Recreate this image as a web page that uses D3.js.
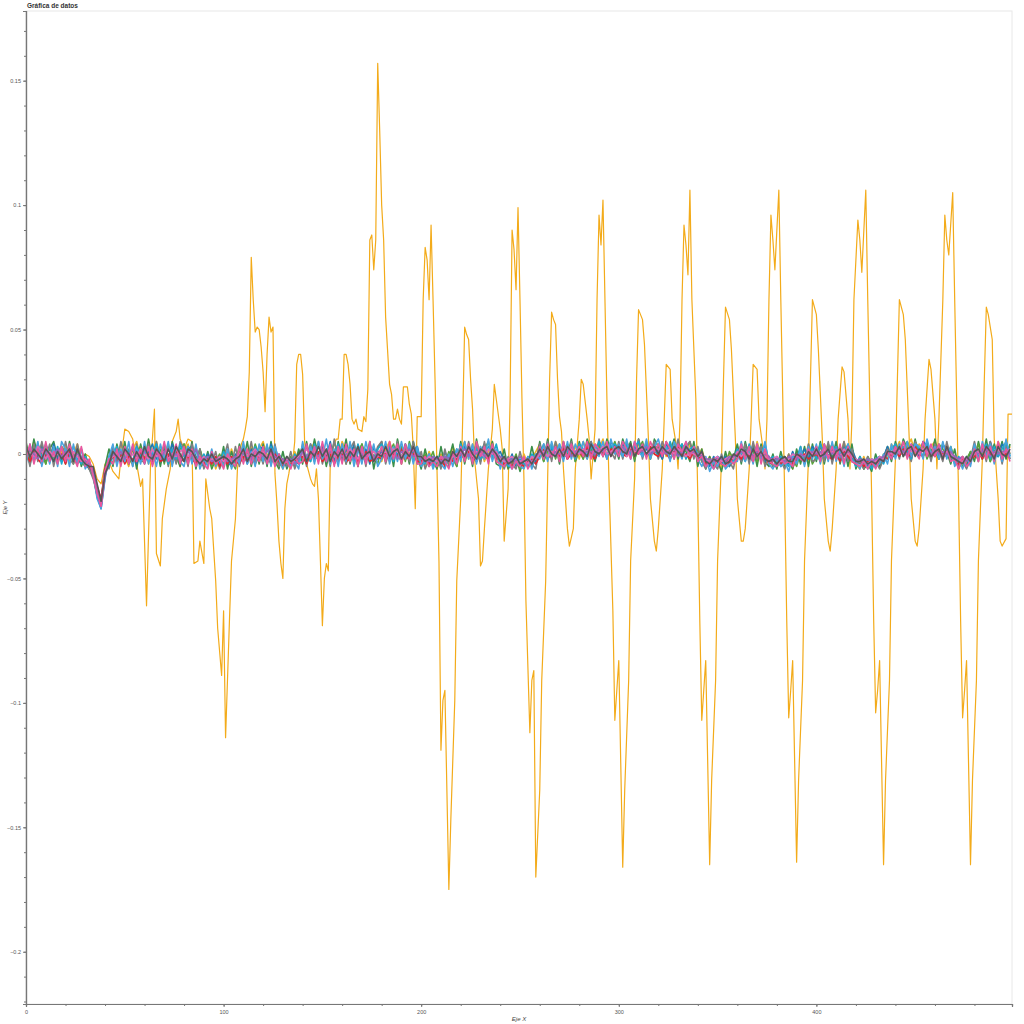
<!DOCTYPE html>
<html><head><meta charset="utf-8">
<script src="https://cdn.jsdelivr.net/npm/d3@7"></script>
<style>body{margin:0;background:#fff}svg{display:block}text{font-family:"Liberation Sans",Arial,Helvetica,sans-serif}</style>
</head><body><svg id="chart" width="1024" height="1024"></svg>
<script>
const titleText = "Gráfica de datos";
const xLabelText = "Eje X";
const yLabelText = "Eje Y";
const xTicks = [0, 100, 200, 300, 400];
const yTicks = [-0.2, -0.15, -0.1, -0.05, 0, 0.05, 0.1, 0.15];
const yTickLabels = ["−0.2", "−0.15", "−0.1", "−0.05", "0", "0.05", "0.1", "0.15"];
const goldColor = "#f3ab1a";
const bandColors = ["#f0b428", "#3b8f4a", "#5aa43c", "#1f77b4", "#7f7f7f", "#1aa7cf", "#e4262f", "#4aa3df", "#e06cb8", "#9467bd", "#e8579e", "#555555"];
// gold series: [x, value in thousandths]
const goldSeries = [[0,1],[2,2],[4,0],[6,1],[8,-1],[10,2],[12,0],[14,-2],[16,1],[18,-1],[20,0],[22,2],[24,-1],[26,0],[28,-2],[30,0],[32,-1],[34,-4],[36,-10],[38,-12],[40,-4],[42,-3],[44,-7],[46,-9],[47,-10],[48,-2],[50,10],[52,9],[54,6],[56,-4],[58,-13],[59,-10],[61,-61],[63,-5],[65,18],[66,-40],[68,-45],[69,-26],[71,-14],[73,-6],[74,5],[76,9],[77,14],[78,6],[80,2],[82,6],[84,5],[85,-44],[87,-43],[88,-35],[90,-44],[91,-10],[93,-22],[94,-26],[96,-51],[97,-70],[99,-89],[100,-63],[101,-114],[103,-66],[104,-43],[106,-26],[107,-6],[108,0],[109,4],[110,6],[111,10],[112,15],[113,33],[114,79],[115,62],[116,49],[117,51],[118,50],[119,43],[120,33],[121,17],[122,40],[123,55],[124,49],[125,51],[126,-8],[127,-20],[128,-35],[129,-44],[130,-50],[131,-22],[132,-12],[133,-8],[134,-3],[135,-3],[136,5],[137,36],[138,40],[139,40],[140,32],[141,5],[142,-4],[143,-7],[144,-10],[145,-12],[146,-13],[147,-6],[148,-18],[149,-43],[150,-69],[151,-50],[152,-44],[153,-47],[154,-3],[155,2],[157,6],[158,6],[159,14],[160,14],[161,40],[162,40],[163,36],[164,28],[165,14],[166,12],[167,14],[168,10],[170,9],[171,15],[172,13],[173,26],[174,86],[175,88],[176,74],[177,86],[178,157],[179,130],[180,100],[181,86],[182,55],[184,28],[185,24],[186,14],[187,14],[188,18],[189,14],[190,12],[191,27],[193,27],[194,20],[195,16],[196,2],[197,-22],[198,15],[200,15],[201,62],[202,83],[203,78],[204,62],[205,92],[206,62],[207,30],[208,-6],[209,-43],[210,-119],[211,-99],[212,-95],[214,-175],[215,-147],[217,-99],[218,-51],[220,-18],[221,14],[222,51],[223,48],[224,46],[225,30],[226,18],[227,-2],[229,-18],[230,-45],[231,-43],[232,-30],[233,-18],[234,-6],[236,10],[237,28],[238,22],[240,10],[241,2],[242,-35],[244,-14],[245,22],[246,90],[247,82],[248,66],[249,99],[250,62],[251,22],[252,-10],[253,-59],[255,-112],[256,-91],[257,-87],[258,-170],[260,-135],[261,-91],[263,-51],[264,-10],[265,30],[266,57],[267,54],[268,52],[269,30],[270,15],[271,9],[272,-6],[274,-30],[275,-37],[277,-30],[278,-6],[280,14],[281,30],[282,28],[284,14],[285,6],[286,-10],[288,10],[289,62],[290,96],[291,84],[292,102],[293,62],[294,22],[295,-10],[297,-63],[298,-107],[299,-95],[300,-83],[302,-166],[303,-135],[305,-91],[306,-43],[308,-10],[309,30],[310,58],[312,54],[313,44],[315,6],[316,-18],[318,-35],[319,-39],[320,-30],[322,-6],[323,14],[324,36],[326,34],[327,14],[329,4],[330,-6],[331,14],[332,62],[333,92],[334,84],[335,72],[336,106],[337,62],[339,22],[340,-18],[341,-67],[342,-107],[343,-95],[344,-83],[346,-165],[347,-131],[349,-91],[350,-43],[352,-2],[353,30],[354,59],[356,54],[357,42],[359,6],[360,-18],[362,-35],[363,-35],[364,-30],[366,-6],[367,14],[368,36],[370,34],[371,14],[373,2],[374,-6],[375,14],[376,62],[377,96],[378,86],[379,74],[381,106],[382,62],[383,22],[384,-18],[385,-67],[386,-106],[387,-95],[388,-83],[390,-164],[391,-131],[393,-91],[394,-43],[396,-2],[397,30],[398,62],[400,56],[401,42],[403,6],[404,-18],[406,-35],[407,-39],[408,-30],[410,-6],[411,14],[413,35],[414,33],[416,14],[417,-6],[418,14],[419,62],[421,94],[422,86],[423,73],[425,106],[426,62],[427,22],[428,-18],[429,-67],[430,-104],[431,-95],[432,-83],[434,-165],[435,-131],[437,-91],[438,-43],[440,-2],[441,30],[442,62],[444,56],[445,46],[447,6],[448,-18],[450,-35],[451,-37],[452,-30],[454,-6],[455,14],[457,38],[458,34],[460,14],[461,-6],[462,14],[464,62],[465,96],[466,86],[467,80],[469,105],[470,62],[471,22],[472,-18],[473,-67],[474,-106],[475,-95],[476,-83],[478,-165],[479,-131],[481,-91],[482,-43],[484,-2],[485,30],[486,59],[487,56],[489,46],[490,6],[492,-18],[493,-35],[494,-37],[496,-34],[497,16],[499,16]];
// band series sampled every 2 x units, values in thousandths
const band1 = "4 -2 5 1 -3 3 -1 2 -4 1 3 -3 0 4 -2 -3 -5 -9 -14 -19 -8 -4 2 -3 4 -1 -5 2 5 -2 3 -4 1 5 -2 0 4 -3 2 -5 1 4 -2 3 -5 -1 -4 1 -6 -2 0 -5 2 -3 -1 4 -2 3 -4 2 5 -1 3 -4 -2 -6 -1 -4 1 -3 4 -2 1 5 -3 2 -4 3 0 -2 5 1 -3 2 -5 3 -1 4 -2 1 -3 2 5 -1 3 -4 2 0 4 -3 -1 -5 1 -3 -6 0 -2 -4 3 -1 2 5 -2 4 -1 3 -3 1 5 -2 -4 -1 -6 -2 -3 -5 0 -4 -2 1 4 -2 3 -1 5 1 -2 4 0 3 -2 5 1 -1 4 2 6 -1 3 1 4 0 5 2 -1 4 1 5 -2 3 2 4 -1 3 5 0 3 -2 4 1 -1 2 -4 -1 -5 -2 -6 -3 0 -4 3 -2 4 1 -3 5 -1 2 -4 -1 -5 -2 -4 0 -6 -1 2 -3 4 0 3 -2 1 4 -3 2 -1 5 -2 1 -4 -6 -1 -5 -3 -2 -4 0 -2 4 1 5 -1 3 6 0 4 2 -1 3 5 1 -2 4 0 -3 -5 -1 -4 -2 2 -3 4 0 3 -2 5 1 -1 3";
const band2 = "5 -3 6 -1 4 -4 2 5 -2 3 -4 5 -2 3 -5 0 -6 -9 -17 -20 -5 2 -5 4 -3 5 -4 3 -6 4 -3 6 -2 4 -5 3 -4 5 -1 -5 4 -3 5 -6 2 -5 1 -6 -2 -5 3 -6 1 -4 4 -3 5 -5 2 -4 4 -5 5 -3 -6 1 -6 -2 -5 2 -4 5 -3 6 -1 4 -5 3 -4 5 -2 6 -4 3 -5 4 -2 5 -6 2 5 -3 4 -5 6 -2 4 -4 5 -1 -6 2 -5 -1 -6 3 -5 -2 4 -5 5 -4 3 -5 6 -2 4 -3 5 -4 -5 2 -6 -3 -1 -7 -2 -5 3 -4 5 -3 6 -2 4 -4 5 -1 6 -3 5 -2 6 1 -3 5 -1 6 2 4 -2 6 1 5 -3 6 0 4 -2 6 3 -2 5 0 6 -2 4 1 -3 5 -5 2 -6 -1 -5 -3 -7 1 -5 -2 4 -4 5 -2 3 -5 4 -3 -5 0 -6 1 -5 -3 -6 2 -4 3 -5 4 -3 5 -4 4 -2 5 -4 3 -5 4 -6 -1 -6 -4 -7 0 -5 -2 3 -3 5 -1 6 2 -2 6 -1 5 3 -2 6 -2 4 1 -4 2 -6 -2 -5 1 -3 5 -2 6 -3 4 -1 5 -2 4";
const band3 = "-3 2 -1 4 0 -4 3 -2 1 3 -1 2 -4 1 -3 -5 -3 -7 -16 -21 -6 -2 -4 2 -1 3 -2 -4 1 3 -2 3 -3 0 2 -4 3 1 -3 2 4 -2 0 -4 2 -3 -1 -5 -3 0 -4 1 -3 -6 2 -2 1 -3 4 -1 -3 3 -2 1 -5 -2 -4 -1 -5 0 -2 3 -1 2 4 -3 1 -2 5 -1 2 -4 3 -2 1 4 -3 2 -1 -4 3 -1 1 4 -2 3 -3 5 -1 2 -4 0 -3 1 -5 -3 -4 1 -2 -5 3 -2 1 -1 4 -3 2 5 -2 0 -1 -5 -2 -4 0 -6 -2 -3 -5 -1 2 -3 1 4 -2 3 1 -1 4 -3 1 -2 4 2 -1 3 0 4 1 5 0 3 1 4 -2 2 5 -1 3 0 4 1 3 -2 1 4 -1 2 5 -1 2 -3 -5 -2 -4 -1 -3 -5 1 -2 -2 4 -1 3 1 -3 2 -2 -1 -5 -3 -4 -1 -3 -2 -5 1 -2 2 -4 -1 3 -2 1 4 -1 3 -3 0 -2 -3 -2 -6 -1 -4 -5 -1 -3 1 -1 3 0 2 5 -1 3 1 4 -2 2 0 4 2 -1 3 -2 -3 -5 -2 1 -1 4 -2 2 -3 1 3 -2 4 0";
const band4 = "1 -4 2 -1 3 1 -3 4 -2 -1 -2 3 -1 -3 2 -4 -6 -6 -17 -22 -9 -1 3 -2 -3 1 -1 3 -4 0 -4 1 4 -2 -1 3 -2 4 -1 -3 -2 2 3 -1 -3 -5 0 -2 -4 -3 -2 -3 -5 0 -3 1 -4 2 -2 3 2 -4 4 -2 0 -3 -5 -2 -3 -4 1 -3 4 -1 -2 3 -1 5 -3 1 -3 2 -1 4 -2 0 2 -4 3 -2 1 4 -2 2 0 -3 4 -2 1 3 -3 -2 -4 -1 -2 -5 1 -3 -3 2 -2 3 -1 2 -3 1 4 -2 3 -1 1 -3 -4 0 -5 -3 -5 -1 -4 -3 -1 4 -2 2 3 -1 4 -2 2 0 3 -1 2 5 -2 1 3 -2 5 2 -1 4 2 -1 3 0 3 2 -1 4 1 -2 4 1 3 -1 2 4 0 3 -2 0 -2 -5 -1 -3 -4 -1 -5 -1 1 -3 2 -1 4 0 3 -3 -2 -3 -1 -5 -2 -4 1 -3 -1 2 -2 3 1 -3 4 -1 2 -2 0 3 -3 2 -2 -4 -3 -5 -2 -4 -3 -1 3 -1 -1 3 1 -1 4 2 -1 5 3 0 2 -2 4 1 -2 -1 -4 -2 -5 -1 0 -2 3 -1 5 0 -1 4 2 -2";
const band5 = "3 -5 4 -3 5 -2 4 -5 2 -3 5 -2 -4 4 -3 -2 -6 -10 -16 -19 -5 -6 3 -4 5 -2 2 -5 4 -3 -3 4 -4 5 -3 4 -5 2 -4 5 2 -5 4 -3 2 -6 -2 -4 1 -6 -2 4 -5 3 -5 2 -3 5 -3 1 -4 3 -3 4 -5 -2 -5 1 -6 -1 3 -5 4 -3 5 -4 2 -5 6 -3 4 -4 2 5 -4 3 -5 4 -2 3 5 -4 2 -2 5 -4 3 -3 5 -4 1 -6 -2 -4 -1 -6 2 -5 -2 -3 4 -3 5 -2 3 -4 5 -3 4 -2 -2 -6 -1 -4 -6 1 -5 -3 -4 -6 4 -2 5 -3 5 -1 3 -2 5 -2 4 1 -2 5 -1 6 -1 4 1 -2 5 -2 4 3 -1 6 -2 4 1 5 -2 5 1 4 -2 6 -1 3 5 -2 3 -3 -6 -2 -4 -6 0 -5 -3 -6 2 -3 4 -4 5 -2 3 -5 -1 -5 -5 -3 -6 0 -5 -3 3 -4 4 -3 -2 4 -3 5 -4 3 -2 5 -3 2 -5 -3 -6 -1 -5 -3 -6 -2 2 -1 4 -2 5 1 -3 5 2 -1 5 -3 4 1 -3 5 -2 -1 -5 -3 -6 -2 5 -2 3 -3 5 -1 4 -4 3 -2";
const band6 = "-2 3 -3 2 -1 4 0 -3 3 -4 2 -1 3 -2 -4 -1 -4 -8 -15 -20 -7 -5 -1 3 -4 2 1 -3 3 -1 2 -3 0 4 -3 1 -4 2 -2 4 -1 3 -3 2 -4 0 -3 -1 -2 -4 1 -2 -4 -1 -2 3 -1 -3 3 -2 1 -2 3 0 -3 -4 -2 -5 0 -3 3 -1 -3 4 -2 1 -3 2 -1 4 -1 3 0 -3 4 -1 -3 3 -2 2 4 -2 3 -3 2 1 -1 3 -3 1 -2 -4 0 -5 -1 -2 -4 -2 0 -3 4 -1 3 -3 2 -2 0 3 -1 4 -3 -2 -5 -1 -4 -2 -4 -5 0 -2 3 1 -2 3 -1 4 -2 1 3 -2 4 2 -1 3 0 5 2 -1 3 4 2 -1 4 0 3 5 -1 4 1 2 -1 3 0 5 -1 2 4 -2 2 3 0 -2 -4 -3 -6 -1 -2 -4 -2 -3 2 0 -3 4 -2 2 -1 4 -3 -1 -4 -1 -3 -5 -1 -2 3 -4 0 2 -2 4 0 -2 1 3 -3 1 4 -1 -5 -1 -4 -2 -6 -2 -1 -4 0 2 4 -1 3 1 -2 4 2 -1 4 1 -1 3 -1 2 1 -4 -1 -3 -2 -4 3 -1 1 4 -2 3 -1 2 5 -1";
const band7 = "0 -3 1 -2 -4 0 -2 1 -3 0 -4 1 -2 -4 -1 -2 -5 -7 -13 -18 -6 -3 -1 -3 0 -4 -1 -2 -3 1 -2 0 -4 1 -3 -2 0 -4 1 -1 -3 -1 -2 -4 -1 -4 -2 -4 -1 -5 -2 -4 -1 -3 -4 -1 -3 -1 -4 0 -2 -1 -4 0 -3 -5 -3 -4 -3 -2 -1 -4 0 -2 1 -3 -1 0 -4 -1 0 -3 -2 1 -3 -1 1 -3 -2 -1 -2 1 -3 0 -1 2 -2 -1 0 -3 -3 -1 -4 -2 -3 -2 -5 -1 -3 -2 0 -2 1 -1 -3 2 -1 -2 1 -2 -2 -4 -3 -5 -2 -4 -5 -3 -2 -4 -1 2 -2 0 1 -1 2 -2 0 -1 1 -1 3 0 -2 2 1 -1 2 1 3 0 -1 2 1 0 2 -1 3 0 -1 2 0 -2 1 3 -1 0 -2 1 -2 -1 -4 -3 -2 -5 -3 -2 -4 -1 0 -2 1 -1 -3 1 -2 -1 -4 -3 -2 -4 -3 -1 -4 -2 -1 0 -2 -1 0 -2 1 -1 -2 0 -3 1 -1 -3 -4 -2 -5 -3 -4 -3 -2 -1 -2 0 1 -1 2 0 -1 3 0 -1 2 1 -1 2 0 -1 1 -2 -4 -2 -3 -2 -1 1 -2 2 0 -1 2 -1 0 1";
const band8 = "-4 4 -2 5 -5 2 -4 3 -5 5 2 -5 4 -4 2 -6 -3 -8 -18 -22 -10 -1 4 -5 2 -3 5 -5 2 -4 5 -4 2 -5 4 -2 5 -5 3 -3 -5 3 -4 4 -6 -2 -5 2 -5 -1 -5 2 -6 -1 -4 5 -4 1 -5 4 -3 4 -5 3 -2 -6 -1 -5 -3 -6 5 -3 3 -4 5 -2 6 -4 2 -5 4 -3 5 -5 2 -4 5 -2 4 -5 -2 5 -4 3 -3 5 -2 4 -4 3 -5 -3 0 -6 -2 -4 -6 0 -5 2 -3 5 -2 4 -4 3 -2 6 -3 2 -6 -1 -4 -6 -2 -5 -6 -1 -6 0 -2 4 -3 5 -1 4 -3 5 -2 4 0 5 -2 4 3 -1 5 -2 6 0 4 -1 6 -2 5 1 -1 6 -2 3 6 0 3 -3 5 2 -2 5 0 3 -2 -5 -1 -7 -3 -5 -1 -6 -4 -3 -3 5 -3 2 -4 4 -2 5 -4 -6 -2 -5 -3 -7 -1 -4 2 -5 3 -2 4 -4 3 -3 5 -3 2 -5 4 -3 -3 -6 -2 -6 -2 -5 -4 0 -4 4 -2 4 -1 5 -1 4 3 -2 6 0 3 -2 5 -2 3 -5 -2 -6 -1 -5 4 -3 5 -1 4 -4 3 -3 6 -1";
const band9 = "2 0 -1 3 1 -2 1 -1 0 2 -1 -2 1 -1 -3 -2 -4 -6 -14 -20 -7 -2 -1 0 -2 1 -3 0 -1 2 0 -2 2 -1 0 1 -2 0 -1 1 2 -1 1 -2 -3 -1 -3 -2 -3 -1 -3 -1 -2 -2 0 1 -1 0 2 -1 1 -1 0 -2 -1 -3 -2 -3 -2 -1 0 2 -1 1 -2 1 0 2 -1 0 1 -1 2 0 -2 1 -2 0 1 -1 0 1 -1 2 1 -1 1 0 2 -1 -1 -3 -1 -2 -3 -1 -2 -3 -1 0 1 0 2 -1 1 0 -1 2 0 1 -2 -3 -2 -1 -3 -3 -2 -4 -1 -2 0 1 -1 1 0 2 0 -1 2 1 0 2 1 -1 2 1 3 0 1 2 1 2 -1 3 1 1 2 0 1 2 2 0 1 2 0 2 1 -1 1 0 -1 0 -2 -3 -2 -1 -3 -2 -1 -2 1 -1 1 0 -1 2 0 -1 -2 -2 -1 -3 -2 -2 0 -1 0 -1 1 0 1 0 2 -1 1 0 -1 2 0 -1 -2 -3 -2 -4 -2 -3 -1 -2 1 0 2 1 0 2 1 2 0 2 1 0 1 2 -1 1 0 -1 -2 -3 -2 -2 0 1 -1 2 1 0 2 0 1 2";
const band10 = "-1 2 0 -2 2 1 -1 0 2 -1 1 0 -2 0 -1 -3 -4 -7 -15 -21 -9 -3 0 -1 1 -2 0 2 -1 -2 1 2 -1 1 -2 1 2 -1 0 -2 0 1 -1 2 -2 -2 -1 -3 -2 -2 -1 -3 -2 -1 -2 0 1 -2 1 0 -1 1 2 -1 -2 -2 -3 -2 -4 -2 1 -1 1 0 -1 2 -2 1 0 1 -1 0 1 -2 2 0 -1 1 -2 1 1 -1 0 1 -2 1 0 2 -1 0 -2 -2 -3 -1 -2 -3 -1 -2 0 -1 0 2 -1 1 0 2 -1 0 1 -1 -1 -2 -3 -2 -3 -1 -3 -2 -3 -1 1 0 2 -1 1 0 1 2 -1 1 2 0 1 1 0 2 1 2 0 1 1 3 0 1 2 1 1 3 0 1 1 2 0 1 2 -1 1 2 0 1 0 -1 -2 -2 -3 -2 -2 -3 -1 -1 -1 1 0 2 -1 1 -1 0 -1 -3 -2 -2 -3 -1 -2 -2 0 -1 0 1 0 1 -1 1 0 2 -1 0 1 0 -3 -2 -3 -2 -3 -2 -2 -1 0 1 1 2 1 0 2 1 1 1 2 0 2 0 1 0 1 -1 -2 -1 -3 -1 1 0 1 2 -1 1 0 1 1 0";
const band11 = "-2 4 -4 2 -3 5 -3 1 -4 3 -3 4 -1 -5 3 -5 -2 -9 -16 -21 -7 -2 -4 2 -5 3 -4 4 -3 2 -4 3 -5 2 -2 5 -3 -1 4 -4 3 -4 2 -5 -1 -4 -6 1 -4 -2 -6 0 -3 -5 3 -4 2 -4 1 -3 3 -4 1 -5 0 -4 -3 -6 -1 -4 -3 4 -2 3 -4 5 -3 4 -5 3 -4 4 -3 2 -5 3 -4 5 -3 -1 3 -3 5 -2 4 -4 4 -2 3 -4 -4 -1 -5 -3 -5 -1 -3 -6 1 -4 3 -3 4 -4 5 -1 3 -4 4 -3 -4 -5 -2 -6 -3 -5 -1 -6 -3 -2 3 -2 4 -1 3 -3 5 -2 4 -1 3 -1 5 -2 4 2 -1 5 -1 3 -1 5 2 -2 5 0 4 -2 5 1 4 -1 5 2 -2 4 1 5 -1 3 -3 -1 -5 -3 -6 -2 -4 -5 -2 -4 -2 4 -2 3 -3 4 -4 2 -3 -4 -5 -2 -4 -3 -5 0 -2 -3 2 -1 3 -3 4 -2 3 -2 4 -4 3 -3 -4 -5 -3 -6 -3 -6 -2 -3 1 -2 3 0 5 -2 4 1 -2 5 -1 4 -1 4 -2 3 -3 -2 -6 -1 -5 -3 2 -3 4 -2 3 -3 5 -2 2 -3";
const band12 = "3 -1 2 0 -2 2 0 -3 1 -2 0 2 -3 2 -2 -4 -5 -5 -12 -19 -8 -4 1 -1 -3 2 0 -3 1 -2 3 -1 -2 2 0 -3 2 -2 3 0 -3 2 1 -2 -4 -2 -3 0 -3 -2 -1 -2 -4 -2 -1 2 -3 0 -1 1 0 -2 2 -3 -1 -4 -1 -3 -2 0 2 -3 1 -1 3 -1 2 -3 1 -1 2 -2 1 -1 3 -2 0 1 -3 0 -1 3 -1 1 2 -2 1 -1 3 -1 -1 -3 -2 -3 -1 -4 -2 -3 1 -1 2 -1 3 0 -2 2 1 -1 2 0 -3 -1 -4 -3 -1 -4 -3 -2 -4 -1 2 -1 3 0 -1 2 -1 3 1 -1 2 1 -1 4 1 0 2 3 -1 2 3 1 0 4 -1 2 3 0 2 3 0 3 1 0 3 1 -1 3 1 2 -1 1 -3 -4 -2 -3 -1 -4 -3 0 -1 2 1 -2 2 -1 1 -2 -3 -2 -4 -2 -1 -3 -3 0 -1 -3 1 -1 2 -1 0 2 -2 1 2 -1 2 0 -3 -3 -2 -4 -3 -4 -2 -3 1 1 0 3 -1 2 3 -1 2 1 3 -1 1 2 -2 3 -1 -2 -3 -4 -1 -3 1 2 -1 3 1 -2 3 0 -1 2";
const bandSeries = [band1, band2, band3, band4, band5, band6, band7, band8, band9, band10, band11, band12];

const plot = {left: 26, right: 1012, top: 11, bottom: 1004};
const svg = d3.select("#chart");
const x = d3.scaleLinear().domain([0, 499]).range([plot.left, plot.right]);
const y = d3.scaleLinear().domain([-0.221, 0.178]).range([plot.bottom, plot.top]);

svg.append("rect").attr("x", plot.left).attr("y", plot.top)
  .attr("width", plot.right - plot.left).attr("height", plot.bottom - plot.top)
  .attr("fill", "none").attr("stroke", "#e8e8e8").attr("stroke-width", 1);

svg.append("defs").append("clipPath").attr("id", "clip").append("rect")
  .attr("x", plot.left).attr("y", plot.top).attr("width", plot.right - plot.left).attr("height", plot.bottom - plot.top);
const g = svg.append("g").attr("clip-path", "url(#clip)");

const line = d3.line().x(d => x(d[0])).y(d => y(d[1] / 1000));

g.append("path").datum(goldSeries).attr("d", line)
  .attr("fill", "none").attr("stroke", goldColor).attr("stroke-width", 1.2).attr("stroke-linejoin", "round");

bandSeries.forEach((s, i) => {
  const vals = s.trim().split(/\s+/).map(Number).map((v, k) => [k * 2, v]);
  g.append("path").datum(vals).attr("d", line)
    .attr("fill", "none").attr("stroke", bandColors[i]).attr("stroke-width", 1.6).attr("stroke-linejoin", "round");
});

// axes
const xMinor = d3.range(0, 500, 20);
const yMinor = d3.range(-22, 18).map(v => v / 100);
const xAxis = d3.axisBottom(x).tickValues(xTicks).tickSize(3).tickPadding(3).tickFormat(d3.format("d"));
const xAxisMinor = d3.axisBottom(x).tickValues(xMinor).tickSize(2).tickFormat("");
const yAxis = d3.axisLeft(y).tickValues(yTicks).tickSize(3).tickPadding(2).tickFormat((d, i) => yTickLabels[i]);
const yAxisMinor = d3.axisLeft(y).tickValues(yMinor.filter(v => v >= -0.221 && v <= 0.178)).tickSize(2).tickFormat("");

function styleAxis(sel) {
  sel.select(".domain").attr("stroke", "#777").attr("stroke-width", 1.2);
  sel.selectAll(".tick line").attr("stroke", "#777");
  sel.selectAll(".tick text").attr("fill", "#555").attr("font-size", 5.5).attr("font-family", "'Liberation Sans', Arial, sans-serif");
}
svg.append("g").attr("transform", `translate(0,${plot.bottom})`).call(xAxisMinor).call(styleAxis);
svg.append("g").attr("transform", `translate(0,${plot.bottom})`).call(xAxis).call(styleAxis);
svg.append("g").attr("transform", `translate(${plot.left},0)`).call(yAxisMinor).call(styleAxis);
svg.append("g").attr("transform", `translate(${plot.left},0)`).call(yAxis).call(styleAxis);

svg.append("text").attr("x", 27).attr("y", 8).attr("font-size", 6.5).attr("font-weight", "bold").attr("fill", "#333").text(titleText);
svg.append("text").attr("x", (plot.left + plot.right) / 2).attr("y", 1021).attr("text-anchor", "middle")
  .attr("font-size", 6).attr("font-style", "italic").attr("fill", "#444").text(xLabelText);
svg.append("text").attr("transform", `translate(7,${(plot.top + plot.bottom) / 2}) rotate(-90)`).attr("text-anchor", "middle")
  .attr("font-size", 6).attr("font-style", "italic").attr("fill", "#444").text(yLabelText);
</script>
</body></html>
